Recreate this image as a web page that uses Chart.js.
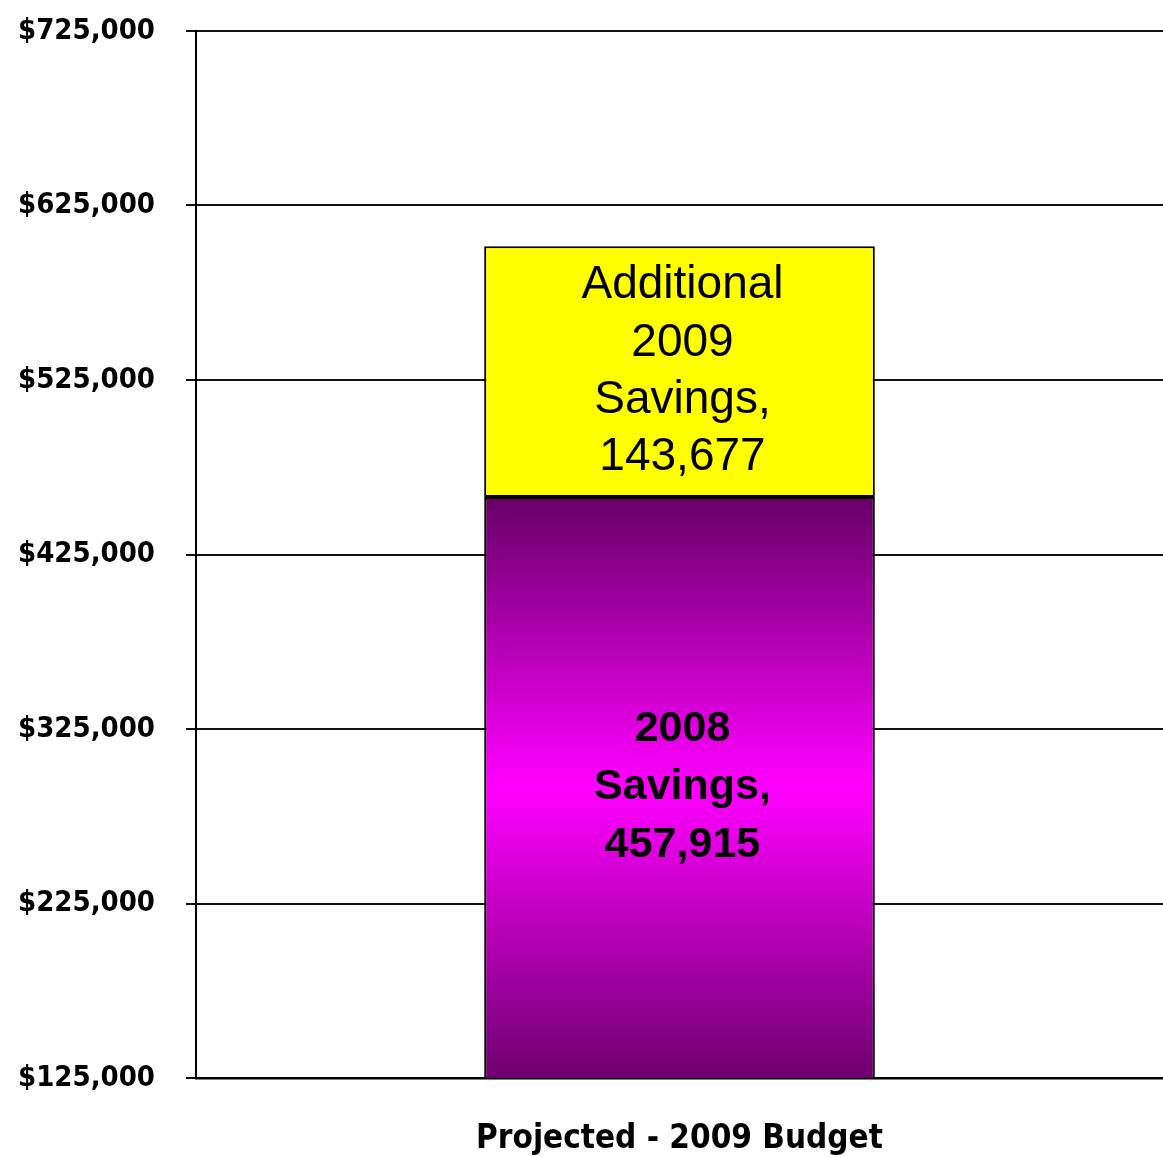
<!DOCTYPE html>
<html>
<head>
<meta charset="utf-8">
<script src="https://cdn.jsdelivr.net/npm/chart.js@4/dist/chart.umd.min.js"></script>
<style>
  html, body { margin: 0; padding: 0; background: #fff; }
  #wrap { width: 1163px; height: 1157px; position: relative; }
</style>
</head>
<body>
<div id="wrap"><canvas id="c"></canvas></div>
<script>
const categories = ['Projected - 2009 Budget'];
const savings2008 = [457915];
const additional2009 = [143677];
const seriesLabels = [['2008', 'Savings,', '457,915'], ['Additional', '2009', 'Savings,', '143,677']];
const yMin = 125000, yMax = 725000, yStep = 100000;

const tickFont = { family: "'DejaVu Sans Condensed', 'DejaVu Sans', sans-serif", weight: 'bold', size: 29 };

function purpleGradient(ctx) {
  const chart = ctx.chart;
  const area = chart.chartArea;
  if (!area) return '#cc00cc';
  const top = chart.scales.y.getPixelForValue(savings2008[0]);
  const bottom = area.bottom;
  const g = chart.ctx.createLinearGradient(0, top, 0, bottom);
  g.addColorStop(0, '#660066');
  g.addColorStop(0.5, '#FF00FF');
  g.addColorStop(1, '#6E006E');
  return g;
}

const labelPlugin = {
  id: 'barLabels',
  afterDatasetsDraw(chart) {
    const c = chart.ctx;
    const area = chart.chartArea;
    const fonts = [
      "bold 43px 'Liberation Sans', Arial, sans-serif",
      "46px 'Liberation Sans', Arial, sans-serif"
    ];
    const lineH = [58, 57.3];
    chart.data.datasets.forEach((ds, i) => {
      const meta = chart.getDatasetMeta(i);
      meta.data.forEach((bar) => {
        const top = Math.max(bar.y, area.top);
        const base = Math.min(bar.base, area.bottom);
        const cy = (top + base) / 2;
        const lines = seriesLabels[i];
        c.save();
        c.font = fonts[i];
        c.fillStyle = '#000';
        c.textAlign = 'center';
        c.textBaseline = 'middle';
        const start = cy - (lines.length - 1) * lineH[i] / 2;
        lines.forEach((t, k) => c.fillText(t, bar.x + 3, start + k * lineH[i]));
        c.restore();
      });
    });
  }
};

new Chart(document.getElementById('c'), {
  type: 'bar',
  data: {
    labels: categories,
    datasets: [
      { label: '2008 Savings', data: savings2008, backgroundColor: purpleGradient,
        borderColor: '#000', borderWidth: 2, borderSkipped: false },
      { label: 'Additional 2009 Savings', data: additional2009, backgroundColor: '#FFFF00',
        borderColor: '#000', borderWidth: 2, borderSkipped: false }
    ]
  },
  options: {
    responsive: true,
    maintainAspectRatio: false,
    animation: false,
    layout: { padding: 0 },
    plugins: { legend: { display: false }, tooltip: { enabled: false } },
    datasets: { bar: { categoryPercentage: 1, barPercentage: 0.404 } },
    scales: {
      x: {
        stacked: true,
        grid: { display: false },
        border: { display: true, color: '#000', width: 2.5 },
        ticks: { color: '#000', font: { family: "'DejaVu Sans Condensed', 'DejaVu Sans', sans-serif", weight: 'bold', size: 33 }, padding: 34 },
        afterFit(s) { s.height = 79; }
      },
      y: {
        stacked: true,
        min: yMin, max: yMax,
        grid: { color: '#111', lineWidth: 2, tickLength: 10, tickColor: '#111', tickWidth: 2 },
        border: { display: true, color: '#000', width: 2 },
        ticks: {
          stepSize: yStep, color: '#000', font: tickFont, padding: 31,
          callback: (v) => '$' + Number(v).toLocaleString('en-US')
        },
        afterFit(s) { s.width = 196; s.paddingTop = 31; s.paddingBottom = 0; }
      }
    }
  },
  plugins: [labelPlugin]
});
</script>
</body>
</html>
